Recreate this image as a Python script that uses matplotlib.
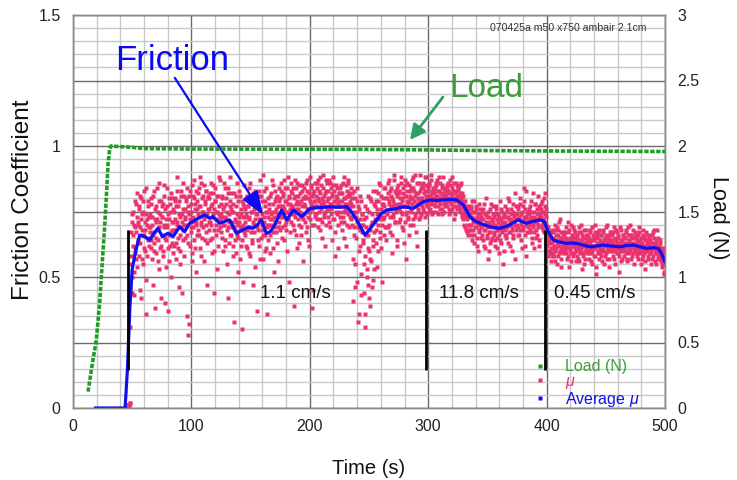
import numpy as np
import matplotlib
matplotlib.use("Agg")
import matplotlib.pyplot as plt
from matplotlib.lines import Line2D

plt.rcParams['font.family'] = ['Liberation Sans', 'DejaVu Sans']
plt.rcParams['mathtext.fontset'] = 'custom'
plt.rcParams['mathtext.rm'] = 'Liberation Sans'
plt.rcParams['mathtext.it'] = 'Liberation Sans:italic'

# ---------------- data ----------------
# friction coefficient samples (mu): two interleaved sample streams,
# each sampled every mu_dt seconds, starting at mu_t0_a / mu_t0_b
mu_t0_a = 45.0
mu_t0_b = 45.25
mu_dt = 0.5
mu_values_a = [
    0.0, 0.0, 0.0, 0.01, 0.0, 0.01, 0.02, 0.46, 0.58, 0.71, 0.44, 0.66, 0.75, 0.52, 0.69, 0.61, 0.78, 0.57, 0.73, 0.64,
    0.70, 0.58, 0.76, 0.81, 0.63, 0.42, 0.68, 0.74, 0.55, 0.79, 0.66, 0.71, 0.60, 0.84, 0.49, 0.72, 0.65, 0.77, 0.62, 0.69,
    0.74, 0.61, 0.80, 0.57, 0.70, 0.66, 0.83, 0.63, 0.38, 0.72, 0.77, 0.59, 0.68, 0.75, 0.64, 0.86, 0.53, 0.71, 0.79, 0.62,
    0.66, 0.73, 0.58, 0.81, 0.70, 0.40, 0.76, 0.64, 0.69, 0.84, 0.61, 0.74, 0.56, 0.72, 0.78, 0.67, 0.50, 0.80, 0.63, 0.71,
    0.75, 0.62, 0.79, 0.68, 0.57, 0.83, 0.71, 0.65, 0.77, 0.46, 0.73, 0.60, 0.81, 0.69, 0.74, 0.64, 0.86, 0.70, 0.58, 0.76,
    0.72, 0.80, 0.35, 0.66, 0.77, 0.28, 0.74, 0.62, 0.83, 0.69, 0.75, 0.59, 0.81, 0.71, 0.87, 0.64, 0.78, 0.70, 0.52, 0.76,
    0.79, 0.68, 0.84, 0.73, 0.61, 0.77, 0.70, 0.86, 0.65, 0.75, 0.81, 0.56, 0.72, 0.78, 0.67, 0.83, 0.74, 0.63, 0.80, 0.71,
    0.76, 0.64, 0.82, 0.70, 0.78, 0.59, 0.74, 0.85, 0.68, 0.44, 0.79, 0.72, 0.66, 0.81, 0.75, 0.62, 0.77, 0.88, 0.69, 0.73,
    0.67, 0.80, 0.73, 0.60, 0.76, 0.70, 0.84, 0.64, 0.72, 0.78, 0.55, 0.69, 0.82, 0.74, 0.63, 0.77, 0.88, 0.66, 0.71, 0.75,
    0.62, 0.78, 0.33, 0.72, 0.68, 0.81, 0.59, 0.74, 0.70, 0.65, 0.83, 0.71, 0.57, 0.76, 0.69, 0.79, 0.64, 0.73, 0.48, 0.77,
    0.71, 0.66, 0.80, 0.74, 0.61, 0.77, 0.69, 0.84, 0.73, 0.58, 0.79, 0.67, 0.75, 0.63, 0.82, 0.70, 0.76, 0.54, 0.72, 0.78,
    0.74, 0.37, 0.81, 0.68, 0.76, 0.62, 0.87, 0.72, 0.65, 0.79, 0.70, 0.57, 0.83, 0.73, 0.66, 0.77, 0.61, 0.75, 0.69, 0.80,
    0.64, 0.78, 0.72, 0.59, 0.82, 0.70, 0.75, 0.67, 0.85, 0.73, 0.52, 0.79, 0.71, 0.76, 0.63, 0.81, 0.74, 0.69, 0.84, 0.77,
    0.80, 0.73, 0.86, 0.69, 0.77, 0.82, 0.64, 0.76, 0.84, 0.71, 0.79, 0.60, 0.75, 0.88, 0.72, 0.81, 0.67, 0.78, 0.74, 0.83,
    0.77, 0.70, 0.84, 0.74, 0.39, 0.81, 0.76, 0.66, 0.79, 0.86, 0.72, 0.78, 0.63, 0.82, 0.75, 0.69, 0.85, 0.73, 0.80, 0.56,
    0.78, 0.84, 0.71, 0.80, 0.67, 0.76, 0.87, 0.73, 0.82, 0.62, 0.79, 0.75, 0.85, 0.70, 0.81, 0.77, 0.45, 0.83, 0.74, 0.79,
    0.81, 0.74, 0.86, 0.77, 0.69, 0.83, 0.79, 0.72, 0.88, 0.76, 0.80, 0.65, 0.84, 0.78, 0.73, 0.82, 0.75, 0.87, 0.70, 0.79,
    0.76, 0.83, 0.71, 0.80, 0.86, 0.74, 0.78, 0.64, 0.82, 0.77, 0.85, 0.72, 0.79, 0.58, 0.81, 0.75, 0.84, 0.70, 0.78, 0.82,
    0.79, 0.73, 0.85, 0.77, 0.68, 0.82, 0.75, 0.88, 0.71, 0.80, 0.76, 0.62, 0.83, 0.78, 0.74, 0.86, 0.69, 0.81, 0.77, 0.72,
    0.78, 0.70, 0.82, 0.41, 0.75, 0.66, 0.80, 0.55, 0.73, 0.84, 0.48, 0.69, 0.77, 0.36, 0.72, 0.62, 0.79, 0.51, 0.67, 0.74,
    0.64, 0.44, 0.72, 0.58, 0.31, 0.69, 0.53, 0.76, 0.47, 0.66, 0.60, 0.80, 0.39, 0.70, 0.56, 0.74, 0.62, 0.49, 0.78, 0.67,
    0.71, 0.79, 0.63, 0.76, 0.54, 0.82, 0.70, 0.74, 0.67, 0.85, 0.73, 0.61, 0.78, 0.72, 0.80, 0.66, 0.77, 0.84, 0.69, 0.75,
    0.80, 0.74, 0.86, 0.70, 0.78, 0.83, 0.67, 0.76, 0.81, 0.59, 0.79, 0.73, 0.87, 0.77, 0.71, 0.82, 0.75, 0.64, 0.84, 0.78,
    0.76, 0.83, 0.72, 0.80, 0.88, 0.74, 0.79, 0.68, 0.82, 0.77, 0.85, 0.71, 0.57, 0.81, 0.75, 0.86, 0.73, 0.79, 0.66, 0.83,
    0.81, 0.75, 0.87, 0.78, 0.70, 0.84, 0.79, 0.73, 0.89, 0.77, 0.82, 0.62, 0.80, 0.76, 0.86, 0.72, 0.83, 0.78, 0.74, 0.85,
    0.80, 0.76, 0.86, 0.79, 0.83, 0.73, 0.81, 0.88, 0.77, 0.84, 0.79, 0.75, 0.85, 0.81, 0.78, 0.87, 0.74, 0.82, 0.80, 0.83,
    0.78, 0.84, 0.80, 0.75, 0.86, 0.81, 0.77, 0.83, 0.79, 0.88, 0.76, 0.82, 0.80, 0.85, 0.74, 0.81, 0.79, 0.84, 0.77, 0.82,
    0.81, 0.77, 0.85, 0.79, 0.83, 0.74, 0.80, 0.87, 0.78, 0.82, 0.76, 0.84, 0.80, 0.72, 0.86, 0.79, 0.83, 0.77, 0.81, 0.85,
    0.80, 0.84, 0.77, 0.82, 0.75, 0.79, 0.86, 0.73, 0.78, 0.81, 0.70, 0.76, 0.74, 0.79, 0.68, 0.75, 0.72, 0.77, 0.66, 0.73,
    0.74, 0.68, 0.77, 0.70, 0.64, 0.75, 0.71, 0.79, 0.66, 0.72, 0.69, 0.76, 0.62, 0.73, 0.70, 0.78, 0.67, 0.71, 0.74, 0.65,
    0.69, 0.75, 0.64, 0.72, 0.68, 0.78, 0.61, 0.71, 0.74, 0.66, 0.70, 0.57, 0.73, 0.67, 0.76, 0.63, 0.70, 0.72, 0.65, 0.77,
    0.71, 0.66, 0.74, 0.62, 0.69, 0.77, 0.65, 0.72, 0.68, 0.59, 0.73, 0.70, 0.64, 0.76, 0.67, 0.71, 0.55, 0.69, 0.74, 0.66,
    0.68, 0.73, 0.65, 0.76, 0.70, 0.63, 0.72, 0.79, 0.67, 0.71, 0.74, 0.60, 0.69, 0.75, 0.66, 0.73, 0.70, 0.82, 0.68, 0.72,
    0.74, 0.69, 0.77, 0.66, 0.72, 0.80, 0.70, 0.64, 0.75, 0.71, 0.68, 0.84, 0.73, 0.62, 0.76, 0.70, 0.58, 0.74, 0.69, 0.72,
    0.70, 0.76, 0.67, 0.73, 0.79, 0.65, 0.72, 0.69, 0.75, 0.61, 0.71, 0.78, 0.68, 0.74, 0.66, 0.81, 0.70, 0.73, 0.64, 0.76,
    0.73, 0.78, 0.69, 0.75, 0.71, 0.80, 0.67, 0.74, 0.77, 0.70, 0.66, 0.62, 0.69, 0.58, 0.64, 0.67, 0.60, 0.65, 0.56, 0.63,
    0.61, 0.67, 0.58, 0.64, 0.70, 0.60, 0.66, 0.55, 0.63, 0.68, 0.62, 0.59, 0.65, 0.72, 0.61, 0.57, 0.64, 0.67, 0.60, 0.63,
    0.66, 0.60, 0.64, 0.69, 0.57, 0.62, 0.67, 0.63, 0.54, 0.65, 0.61, 0.70, 0.59, 0.64, 0.66, 0.58, 0.62, 0.68, 0.63, 0.56,
    0.63, 0.58, 0.66, 0.61, 0.69, 0.56, 0.64, 0.60, 0.67, 0.62, 0.53, 0.65, 0.59, 0.63, 0.68, 0.57, 0.61, 0.66, 0.60, 0.64,
    0.60, 0.65, 0.57, 0.63, 0.68, 0.59, 0.62, 0.55, 0.66, 0.61, 0.64, 0.70, 0.58, 0.62, 0.51, 0.65, 0.60, 0.67, 0.63, 0.57,
    0.64, 0.59, 0.66, 0.61, 0.56, 0.63, 0.68, 0.60, 0.65, 0.58, 0.62, 0.69, 0.57, 0.64, 0.61, 0.66, 0.54, 0.63, 0.60, 0.67,
    0.61, 0.66, 0.58, 0.63, 0.69, 0.60, 0.55, 0.64, 0.62, 0.67, 0.59, 0.65, 0.61, 0.52, 0.63, 0.68, 0.60, 0.64, 0.57, 0.66,
    0.63, 0.58, 0.65, 0.61, 0.67, 0.56, 0.62, 0.69, 0.60, 0.64, 0.59, 0.66, 0.62, 0.57, 0.65, 0.61, 0.68, 0.55, 0.63, 0.60,
    0.62, 0.66, 0.59, 0.64, 0.57, 0.61, 0.67, 0.60, 0.63, 0.55, 0.65, 0.61, 0.58, 0.68, 0.62, 0.59, 0.64, 0.53, 0.61, 0.66,
    0.60, 0.64, 0.57, 0.62, 0.66, 0.59, 0.63, 0.55, 0.61, 0.67, 0.58, 0.62, 0.65, 0.56, 0.60, 0.63, 0.59, 0.68, 0.57, 0.61,
    0.62, 0.58, 0.64, 0.56, 0.60, 0.54, 0.61, 0.57, 0.52, 0.59,
]
mu_values_b = [
    0.0, 0.0, 0.01, 0.0, 0.0, 0.02, 0.31, 0.55, 0.67, 0.50, 0.74, 0.62, 0.43, 0.70, 0.79, 0.59, 0.67, 0.82, 0.54, 0.71,
    0.63, 0.77, 0.45, 0.69, 0.72, 0.80, 0.57, 0.66, 0.75, 0.61, 0.83, 0.68, 0.36, 0.74, 0.70, 0.58, 0.79, 0.64, 0.73, 0.67,
    0.69, 0.78, 0.64, 0.73, 0.47, 0.81, 0.67, 0.60, 0.76, 0.71, 0.65, 0.84, 0.72, 0.56, 0.79, 0.69, 0.74, 0.61, 0.42, 0.77,
    0.73, 0.60, 0.78, 0.69, 0.85, 0.65, 0.72, 0.54, 0.77, 0.70, 0.37, 0.80, 0.66, 0.75, 0.62, 0.82, 0.71, 0.68, 0.76, 0.59,
    0.68, 0.80, 0.72, 0.63, 0.77, 0.70, 0.88, 0.61, 0.74, 0.79, 0.66, 0.55, 0.83, 0.71, 0.44, 0.76, 0.68, 0.81, 0.73, 0.65,
    0.79, 0.70, 0.84, 0.63, 0.75, 0.81, 0.32, 0.72, 0.67, 0.78, 0.56, 0.85, 0.73, 0.69, 0.80, 0.61, 0.76, 0.83, 0.71, 0.66,
    0.74, 0.82, 0.66, 0.77, 0.88, 0.71, 0.58, 0.80, 0.75, 0.69, 0.85, 0.73, 0.64, 0.79, 0.83, 0.70, 0.47, 0.76, 0.81, 0.68,
    0.80, 0.71, 0.77, 0.86, 0.65, 0.73, 0.82, 0.76, 0.60, 0.79, 0.84, 0.70, 0.75, 0.53, 0.81, 0.68, 0.74, 0.87, 0.72, 0.78,
    0.74, 0.65, 0.81, 0.70, 0.86, 0.77, 0.62, 0.73, 0.80, 0.68, 0.75, 0.84, 0.42, 0.71, 0.79, 0.66, 0.76, 0.82, 0.69, 0.58,
    0.75, 0.69, 0.82, 0.64, 0.77, 0.71, 0.86, 0.66, 0.52, 0.79, 0.73, 0.68, 0.81, 0.62, 0.74, 0.30, 0.78, 0.70, 0.85, 0.67,
    0.76, 0.62, 0.73, 0.81, 0.68, 0.77, 0.59, 0.72, 0.86, 0.69, 0.75, 0.80, 0.64, 0.71, 0.47, 0.78, 0.67, 0.83, 0.74, 0.70,
    0.69, 0.78, 0.64, 0.83, 0.72, 0.57, 0.76, 0.81, 0.68, 0.74, 0.89, 0.66, 0.71, 0.79, 0.60, 0.75, 0.84, 0.70, 0.36, 0.73,
    0.76, 0.70, 0.81, 0.66, 0.74, 0.87, 0.72, 0.61, 0.78, 0.69, 0.83, 0.75, 0.67, 0.80, 0.73, 0.56, 0.77, 0.71, 0.79, 0.68,
    0.74, 0.83, 0.77, 0.65, 0.81, 0.73, 0.87, 0.70, 0.79, 0.75, 0.68, 0.84, 0.78, 0.72, 0.48, 0.80, 0.76, 0.86, 0.71, 0.77,
    0.82, 0.75, 0.68, 0.80, 0.87, 0.73, 0.78, 0.84, 0.61, 0.76, 0.81, 0.70, 0.85, 0.74, 0.79, 0.66, 0.83, 0.77, 0.72, 0.80,
    0.74, 0.81, 0.77, 0.86, 0.69, 0.83, 0.75, 0.64, 0.80, 0.88, 0.72, 0.78, 0.84, 0.38, 0.76, 0.82, 0.70, 0.79, 0.86, 0.73,
    0.77, 0.84, 0.72, 0.80, 0.87, 0.75, 0.68, 0.82, 0.78, 0.85, 0.71, 0.79, 0.89, 0.74, 0.81, 0.62, 0.77, 0.83, 0.76, 0.86,
    0.80, 0.73, 0.87, 0.78, 0.69, 0.84, 0.76, 0.81, 0.88, 0.72, 0.79, 0.83, 0.67, 0.77, 0.85, 0.74, 0.80, 0.61, 0.82, 0.75,
    0.84, 0.77, 0.71, 0.82, 0.79, 0.86, 0.73, 0.80, 0.65, 0.78, 0.85, 0.75, 0.81, 0.70, 0.87, 0.76, 0.82, 0.73, 0.79, 0.84,
    0.73, 0.80, 0.57, 0.77, 0.69, 0.83, 0.46, 0.75, 0.65, 0.79, 0.71, 0.33, 0.76, 0.60, 0.81, 0.68, 0.43, 0.74, 0.70, 0.63,
    0.70, 0.55, 0.77, 0.36, 0.66, 0.73, 0.50, 0.81, 0.61, 0.42, 0.75, 0.68, 0.57, 0.79, 0.46, 0.71, 0.64, 0.83, 0.53, 0.72,
    0.77, 0.68, 0.83, 0.74, 0.60, 0.79, 0.72, 0.86, 0.65, 0.76, 0.81, 0.70, 0.48, 0.78, 0.73, 0.84, 0.69, 0.75, 0.80, 0.64,
    0.75, 0.82, 0.69, 0.79, 0.87, 0.73, 0.77, 0.84, 0.66, 0.80, 0.74, 0.89, 0.78, 0.71, 0.83, 0.76, 0.62, 0.81, 0.77, 0.85,
    0.82, 0.71, 0.78, 0.86, 0.75, 0.80, 0.69, 0.84, 0.77, 0.63, 0.81, 0.87, 0.74, 0.79, 0.83, 0.72, 0.78, 0.85, 0.70, 0.80,
    0.76, 0.84, 0.80, 0.72, 0.88, 0.79, 0.83, 0.74, 0.81, 0.67, 0.86, 0.78, 0.82, 0.75, 0.79, 0.89, 0.73, 0.80, 0.84, 0.77,
    0.84, 0.79, 0.75, 0.82, 0.88, 0.78, 0.85, 0.80, 0.74, 0.83, 0.77, 0.86, 0.81, 0.76, 0.89, 0.79, 0.83, 0.75, 0.84, 0.78,
    0.82, 0.77, 0.85, 0.81, 0.79, 0.87, 0.74, 0.83, 0.80, 0.78, 0.86, 0.82, 0.76, 0.84, 0.80, 0.88, 0.78, 0.75, 0.83, 0.79,
    0.78, 0.84, 0.80, 0.86, 0.76, 0.82, 0.79, 0.75, 0.85, 0.81, 0.88, 0.77, 0.83, 0.79, 0.74, 0.82, 0.86, 0.80, 0.76, 0.84,
    0.83, 0.78, 0.81, 0.76, 0.85, 0.80, 0.74, 0.82, 0.77, 0.72, 0.79, 0.75, 0.69, 0.77, 0.73, 0.67, 0.76, 0.70, 0.74, 0.68,
    0.70, 0.76, 0.66, 0.73, 0.79, 0.68, 0.72, 0.63, 0.75, 0.69, 0.77, 0.71, 0.65, 0.74, 0.60, 0.72, 0.68, 0.76, 0.70, 0.73,
    0.72, 0.66, 0.76, 0.70, 0.62, 0.74, 0.68, 0.80, 0.65, 0.73, 0.69, 0.75, 0.60, 0.71, 0.67, 0.78, 0.64, 0.72, 0.69, 0.74,
    0.67, 0.73, 0.70, 0.64, 0.76, 0.68, 0.61, 0.74, 0.71, 0.66, 0.79, 0.69, 0.72, 0.63, 0.75, 0.68, 0.73, 0.60, 0.70, 0.77,
    0.71, 0.66, 0.75, 0.69, 0.73, 0.80, 0.67, 0.70, 0.62, 0.76, 0.72, 0.68, 0.78, 0.65, 0.71, 0.74, 0.57, 0.72, 0.77, 0.69,
    0.70, 0.76, 0.66, 0.73, 0.68, 0.78, 0.71, 0.74, 0.61, 0.77, 0.69, 0.72, 0.79, 0.66, 0.73, 0.83, 0.70, 0.67, 0.75, 0.71,
    0.74, 0.68, 0.77, 0.71, 0.63, 0.75, 0.82, 0.70, 0.73, 0.67, 0.78, 0.72, 0.65, 0.76, 0.71, 0.69, 0.77, 0.62, 0.74, 0.72,
    0.76, 0.70, 0.79, 0.72, 0.68, 0.75, 0.82, 0.71, 0.73, 0.76, 0.69, 0.65, 0.60, 0.67, 0.63, 0.59, 0.66, 0.61, 0.68, 0.58,
    0.65, 0.59, 0.62, 0.68, 0.56, 0.64, 0.61, 0.69, 0.58, 0.66, 0.63, 0.71, 0.60, 0.67, 0.54, 0.62, 0.65, 0.59, 0.66, 0.61,
    0.62, 0.67, 0.59, 0.65, 0.61, 0.71, 0.58, 0.64, 0.68, 0.60, 0.63, 0.56, 0.66, 0.62, 0.69, 0.59, 0.65, 0.61, 0.67, 0.64,
    0.60, 0.65, 0.62, 0.57, 0.67, 0.63, 0.59, 0.70, 0.61, 0.64, 0.66, 0.58, 0.62, 0.55, 0.65, 0.60, 0.68, 0.63, 0.59, 0.66,
    0.63, 0.59, 0.67, 0.61, 0.56, 0.64, 0.60, 0.69, 0.62, 0.58, 0.65, 0.61, 0.67, 0.54, 0.63, 0.66, 0.59, 0.62, 0.68, 0.60,
    0.61, 0.66, 0.58, 0.63, 0.67, 0.60, 0.64, 0.55, 0.62, 0.66, 0.59, 0.63, 0.70, 0.60, 0.65, 0.57, 0.62, 0.67, 0.61, 0.64,
    0.64, 0.60, 0.67, 0.62, 0.57, 0.65, 0.61, 0.68, 0.59, 0.63, 0.66, 0.58, 0.62, 0.69, 0.60, 0.64, 0.56, 0.62, 0.66, 0.61,
    0.60, 0.65, 0.62, 0.68, 0.59, 0.63, 0.57, 0.66, 0.61, 0.64, 0.70, 0.60, 0.63, 0.58, 0.66, 0.62, 0.59, 0.65, 0.61, 0.67,
    0.65, 0.60, 0.63, 0.58, 0.66, 0.62, 0.69, 0.59, 0.64, 0.61, 0.57, 0.63, 0.66, 0.60, 0.65, 0.56, 0.62, 0.67, 0.60, 0.63,
    0.63, 0.58, 0.65, 0.61, 0.59, 0.64, 0.60, 0.66, 0.57, 0.63, 0.61, 0.68, 0.59, 0.62, 0.55, 0.64, 0.61, 0.58, 0.65, 0.60,
    0.59, 0.63, 0.57, 0.61, 0.55, 0.60, 0.56, 0.58, 0.51, 0.55,
]

# running average of mu
avg_t = [19, 44, 46, 48, 50, 53, 56.3, 60, 64.8, 68, 71.8, 75.5, 80.2, 84.5, 90.1, 94.3, 98.5,
         105.6, 111.2, 115.4, 118.2, 123.9, 128, 132.3, 138, 143.6, 148, 152, 156, 159, 163.3,
         166.4, 170, 176.2, 180.5, 186.1, 193.1, 200.2, 208, 217.1, 224, 231.2, 235, 239.6, 243,
         246.6, 251, 256.5, 260, 264.9, 272, 279, 287.4, 292, 295.9, 301.5, 307, 312.8, 318, 324,
         329.7, 335.3, 339, 343.8, 348, 352.2, 356, 360.7, 365, 369.1, 372, 376.2, 379, 383.2,
         388, 394.5, 398, 400.1, 403, 405.7, 410, 417, 421, 425.4, 431, 436.7, 442, 447.9, 455,
         462, 467, 473.3, 479, 484.5, 490, 494.4, 497, 500]
avg_mu = [0.0, 0.0, 0.15, 0.38, 0.53, 0.60, 0.66, 0.655, 0.641, 0.665, 0.686, 0.654, 0.667, 0.654,
          0.692, 0.673, 0.705, 0.724, 0.737, 0.724, 0.730, 0.705, 0.712, 0.718, 0.667, 0.680, 0.690,
          0.686, 0.700, 0.718, 0.667, 0.672, 0.695, 0.756, 0.718, 0.756, 0.730, 0.762, 0.765, 0.768,
          0.766, 0.768, 0.750, 0.718, 0.690, 0.660, 0.685, 0.718, 0.740, 0.756, 0.760, 0.768, 0.762,
          0.775, 0.787, 0.794, 0.792, 0.794, 0.796, 0.794, 0.775, 0.730, 0.715, 0.705, 0.698, 0.692,
          0.688, 0.686, 0.692, 0.699, 0.708, 0.718, 0.712, 0.705, 0.712, 0.718, 0.712, 0.686, 0.660,
          0.641, 0.635, 0.628, 0.630, 0.628, 0.622, 0.615, 0.618, 0.622, 0.618, 0.615, 0.620, 0.622,
          0.615, 0.609, 0.612, 0.609, 0.590, 0.558]

# normal load (N), right axis
load_t = [12.7, 15.0, 16.9, 19.7, 22.5, 24.5, 26.7, 28.2, 29.6, 31.0, 32.0, 40, 50, 60, 100, 150,
          200, 250, 300, 350, 400, 450, 500]
load_n = [0.125, 0.26, 0.37, 0.52, 0.80, 1.08, 1.38, 1.62, 1.86, 1.98, 2.00, 1.995, 1.99, 1.98,
          1.977, 1.976, 1.975, 1.974, 1.970, 1.965, 1.962, 1.960, 1.958]

# sliding speed changes
speed_change_t = [46.5, 298.5, 398.5]
speed_mark_lo, speed_mark_hi = 0.145, 0.68
speed_labels = ['1.1 cm/s', '11.8 cm/s', '0.45 cm/s']
speed_label_t = [188, 342.5, 441]
speed_label_mu = 0.438

mu_t_a = mu_t0_a + mu_dt * np.arange(len(mu_values_a))
mu_t_b = mu_t0_b + mu_dt * np.arange(len(mu_values_b))

# ---------------- colours ----------------
c_mu = '#e8336f'
c_avg = '#1010f0'
c_load = '#1f9c26'
c_load_txt = '#3a9e3a'
c_arrow_g = '#2fa064'

# ---------------- figure ----------------
fig = plt.figure(figsize=(7.37, 4.8), dpi=100)
ax = fig.add_axes([73 / 737, 72 / 480, 592 / 737, 393 / 480])
ax2 = ax.twinx()

ax.set_xlim(0, 500)
ax.set_ylim(0, 1.5)
ax2.set_ylim(0, 3)

ax.set_xticks(np.arange(0, 501, 100))
ax.set_xticks(np.arange(0, 501, 20), minor=True)
ax.set_yticks(np.arange(0, 1.51, 0.25))
ax.set_yticklabels(['0', '', '0.5', '', '1', '', '1.5'])
ax.set_yticks(np.arange(0, 1.501, 0.05), minor=True)
ax.grid(which='minor', color='#c8c8c8', lw=1.0)
ax.grid(which='major', color='#6a6a6a', lw=1.0)
ax.set_axisbelow(True)
ax.tick_params(axis='both', which='both', length=0, labelsize=11.5, colors='#222222')
ax.tick_params(axis='y', pad=9)
ax.tick_params(axis='x', pad=8)

ax2.set_yticks(np.arange(0, 3.01, 0.5))
ax2.set_yticklabels(['0', '0.5', '1', '1.5', '2', '2.5', '3'])
ax2.tick_params(axis='y', length=0, labelsize=11.5, colors='#222222', pad=9)

for a in (ax, ax2):
    for s in a.spines.values():
        s.set_color('#8a8a8a')
        s.set_linewidth(1.0)

# series
ax2.plot(load_t, load_n, color=c_load, lw=2.6, linestyle=(0, (1.2, 0.45)),
         dash_capstyle='butt', zorder=3)
ax.plot(mu_t_a, mu_values_a, linestyle='none', marker='s', ms=2.6, mec='none', mfc=c_mu, zorder=3)
ax.plot(mu_t_b, mu_values_b, linestyle='none', marker='s', ms=2.6, mec='none', mfc=c_mu, zorder=3)
ax.plot(avg_t, avg_mu, color=c_avg, lw=2.3, zorder=4, solid_joinstyle='round')

ax.vlines(speed_change_t, speed_mark_lo, speed_mark_hi, color='black', lw=2.0, zorder=5)
for lab, t in zip(speed_labels, speed_label_t):
    ax.text(t, speed_label_mu, lab, ha='center', va='center', fontsize=13.5, color='#111111', zorder=6)

# labels
ax.set_xlabel('Time (s)', fontsize=14.5, color='#111111')
ax.xaxis.set_label_coords(0.5, -0.13)
ax.set_ylabel('Friction Coefficient', fontsize=17.5, color='#111111')
ax.yaxis.set_label_coords(-0.066, 0.53)
ax2.set_ylabel('Load (N)', fontsize=15.5, color='#111111', rotation=270, va='center')
ax2.yaxis.set_label_coords(1.091, 0.483)

# annotations
ax.text(83.6, 1.328, 'Friction', color='#0a0aef', fontsize=25, ha='center', va='center', zorder=7)
ax.annotate('', xy=(160.5, 0.737), xytext=(86, 1.26),
            arrowprops=dict(arrowstyle='-|>,head_length=1.2,head_width=0.45', color='#0a0aef',
                            lw=1.6, mutation_scale=12, shrinkA=0, shrinkB=0), zorder=7)
ax.text(349, 1.221, 'Load', color=c_load_txt, fontsize=24, ha='center', va='center', zorder=7)
ax.annotate('', xy=(284.6, 1.023), xytext=(312.5, 1.187),
            arrowprops=dict(arrowstyle='-|>,head_length=0.9,head_width=0.45', color=c_arrow_g,
                            lw=2.0, mutation_scale=10, shrinkA=0, shrinkB=0), zorder=7)
ax.text(418, 1.45, '070425a m50 x750 ambair 2.1cm', fontsize=7.6, color='#333333',
        ha='center', va='center', zorder=7)

# legend
handles = [Line2D([], [], ls='none', marker='s', ms=2.2, mec='none', mfc=c_load),
           Line2D([], [], ls='none', marker='s', ms=2.2, mec='none', mfc=c_mu),
           Line2D([], [], ls='none', marker='s', ms=2.2, mec='none', mfc=c_avg)]
leg = ax2.legend(handles, ['Load (N)', r'$\mu$', r'Average $\mu$'], loc='lower left',
                 bbox_to_anchor=(0.775, -0.002), frameon=False, fontsize=11.5,
                 handlelength=1.0, handletextpad=1.1, labelspacing=-0.05,
                 borderpad=0, borderaxespad=0)
for txt, c in zip(leg.get_texts(), [c_load_txt, c_mu, c_avg]):
    txt.set_color(c)

fig.savefig('out.png', dpi=100)
